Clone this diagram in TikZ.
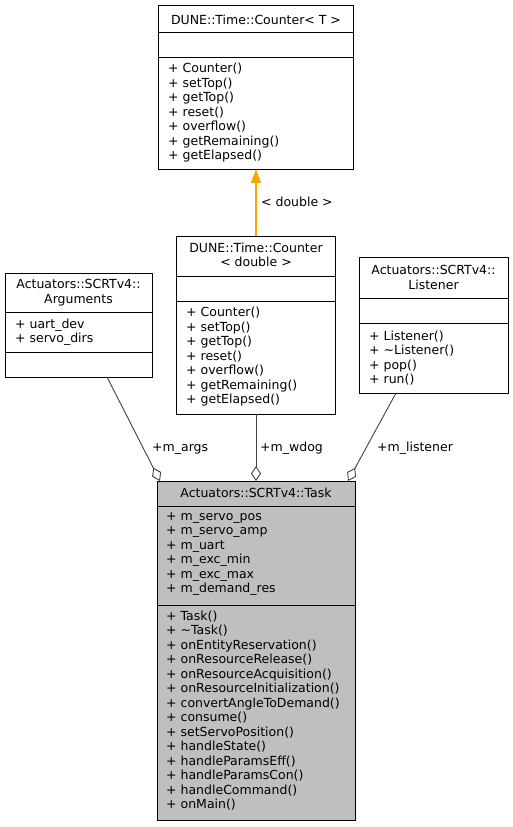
\documentclass[tikz,border=0pt]{standalone}
\usepackage{fontspec}
\setmainfont{DejaVu Sans}
\usetikzlibrary{arrows.meta}
\definecolor{inhorange}{HTML}{FFA500}
\definecolor{edgegray}{HTML}{404040}
\definecolor{taskgray}{HTML}{BFBFBF}

\begin{document}
\begin{tikzpicture}[x=1pt,y=-1pt,line cap=butt,line join=miter,
		font=\fontsize{12.5}{14.5}\selectfont,
		box/.style={draw,line width=1pt,inner sep=0pt,outer sep=0pt},
		txt/.style={inner sep=0pt,anchor=north west,align=left,execute at begin node=\strut},
		ttl/.style={inner sep=0pt,anchor=north,align=center,execute at begin node=\strut},
		lbl/.style={inner sep=0pt,anchor=base west},
		aggr/.style={draw=edgegray,line width=0.9pt,-{Diamond[open,fill=white,length=15pt,width=10pt]}},
		inh/.style={draw=inhorange,line width=1.4pt,-{Triangle[length=14pt,width=10pt]}}]
			\useasboundingbox (0,0) rectangle (512,827);
			\node[box,minimum width=195pt,minimum height=164pt] (cnt) at (256,87) {};
			\node[box,minimum width=159pt,minimum height=178pt] (cntd) at (256,325) {};
			\node[box,minimum width=147pt,minimum height=104pt] (args) at (78.5,325) {};
			\node[box,minimum width=149pt,minimum height=136pt] (lst) at (433.5,325) {};
			\node[box,fill=taskgray,minimum width=198pt,minimum height=339pt] (task) at (256,650.5) {};
			\draw[line width=1pt] (158.5,32)--(353.5,32) (158.5,57)--(353.5,57)
			(176.5,276)--(335.5,276) (176.5,301)--(335.5,301)
			(5,312)--(152,312) (5,352)--(152,352)
			(359,298)--(508,298) (359,323)--(508,323)
			(157,506)--(355,506) (157,605)--(355,605);
			\node[ttl] (cntt) at (256,14.3) {DUNE::Time::Counter< T >};
			\node[txt] (cntm) at (168,63.3) {+ Counter()\\+ setTop()\\+ getTop()\\+ reset()\\+ overflow()\\+ getRemaining()\\+ getElapsed()};
			\node[ttl] (cntdt) at (256,242.3) {DUNE::Time::Counter\\< double >};
			\node[txt] (cntdm) at (186,307.3) {+ Counter()\\+ setTop()\\+ getTop()\\+ reset()\\+ overflow()\\+ getRemaining()\\+ getElapsed()};
			\node[ttl] (argst) at (78.5,279.3) {Actuators::SCRTv4::\\Arguments};
			\node[txt] (argsa) at (15,318.3) {+ uart\_dev\\+ servo\_dirs};
			\node[ttl] (lstt) at (433.5,265.3) {Actuators::SCRTv4::\\Listener};
			\node[txt] (lstm) at (369,330.3) {+ Listener()\\+ \char"223C Listener()\\+ pop()\\+ run()};
			\node[ttl] (taskt) at (256,487.3) {Actuators::SCRTv4::Task};
			\node[txt] (taska) at (166,512.3) {+ m\_servo\_pos\\+ m\_servo\_amp\\+ m\_uart\\+ m\_exc\_min\\+ m\_exc\_max\\+ m\_demand\_res};
			\node[txt] (taskm) at (166,610.3) {+ Task()\\+ \char"223C Task()\\+ onEntityReservation()\\+ onResourceRelease()\\+ onResourceAcquisition()\\+ onResourceInitialization()\\+ convertAngleToDemand()\\+ consume()\\+ setServoPosition()\\+ handleState()\\+ handleParamsEff()\\+ handleParamsCon()\\+ handleCommand()\\+ onMain()};
			\coordinate (argsout) at (107,377);
			\coordinate (taskargs) at (160,481);
			\coordinate (lstout) at (396,393);
			\coordinate (tasklst) at (348,481);
			\draw[inh] (cntd.north) -- (cnt.south);
			\draw[aggr] (argsout) -- (taskargs);
			\draw[aggr] (cntd.south) -- (task.north);
			\draw[aggr] (lstout) -- (tasklst);
			\node[lbl] (inhl) at (261,206) {< double >};
			\node[lbl] (argsl) at (152,451) {+m\_args};
			\node[lbl] (wdogl) at (260,451) {+m\_wdog};
			\node[lbl] (lstl) at (377,451) {+m\_listener};
		\end{tikzpicture}
\end{document}
